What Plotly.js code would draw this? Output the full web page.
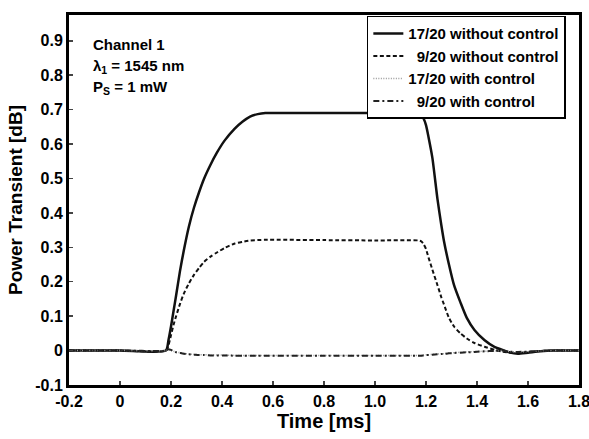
<!DOCTYPE html>
<html>
<head>
<meta charset="utf-8">
<script src="https://cdn.plot.ly/plotly-3.0.1.min.js"></script>
<style>html,body{margin:0;padding:0;background:#fff;}#chart{width:589px;height:439px;}</style>
</head>
<body>
<div id="chart"></div>
<script>
var time = [-0.2, 0, 0.18, 0.19, 0.2, 0.21, 0.22, 0.235, 0.25, 0.27, 0.29, 0.31, 0.33, 0.355, 0.38, 0.41, 0.45, 0.48, 0.51, 0.54, 0.57, 0.8, 1.0, 1.17, 1.18, 1.19, 1.2, 1.21, 1.225, 1.245, 1.26, 1.27, 1.29, 1.31, 1.335, 1.36, 1.39, 1.43, 1.47, 1.5, 1.53, 1.56, 1.6, 1.65, 1.7, 1.8];
var s17NoCtrl = [0, 0, 0, 0.03, 0.07, 0.115, 0.16, 0.23, 0.29, 0.36, 0.415, 0.46, 0.50, 0.54, 0.575, 0.61, 0.645, 0.665, 0.68, 0.687, 0.69, 0.69, 0.69, 0.69, 0.686, 0.675, 0.655, 0.62, 0.56, 0.44, 0.365, 0.32, 0.25, 0.19, 0.14, 0.095, 0.06, 0.03, 0.01, 0.002, -0.006, -0.009, -0.006, -0.002, 0, 0];
var s9NoCtrl = [0, 0, 0, 0.015, 0.045, 0.075, 0.10, 0.135, 0.165, 0.195, 0.22, 0.24, 0.258, 0.273, 0.285, 0.298, 0.311, 0.316, 0.32, 0.321, 0.322, 0.321, 0.32, 0.32, 0.318, 0.31, 0.295, 0.27, 0.235, 0.19, 0.155, 0.135, 0.095, 0.07, 0.05, 0.035, 0.022, 0.011, 0.002, -0.003, -0.006, -0.007, -0.004, -0.001, 0, 0];
var s17Ctrl = [0, 0, 0, 0.003, 0.001, -0.002, -0.004, -0.006, -0.008, -0.010, -0.011, -0.012, -0.012, -0.013, -0.013, -0.013, -0.014, -0.014, -0.014, -0.014, -0.014, -0.014, -0.014, -0.014, -0.014, -0.013, -0.012, -0.012, -0.011, -0.010, -0.009, -0.009, -0.007, -0.006, -0.005, -0.004, -0.003, -0.002, -0.001, 0, -0.003, -0.004, -0.003, -0.001, 0, 0];
var s9Ctrl = [0, 0, 0, 0.004, 0.002, -0.002, -0.005, -0.007, -0.009, -0.011, -0.012, -0.013, -0.013, -0.014, -0.014, -0.014, -0.015, -0.015, -0.015, -0.015, -0.015, -0.015, -0.015, -0.015, -0.015, -0.014, -0.013, -0.013, -0.012, -0.011, -0.010, -0.010, -0.008, -0.007, -0.006, -0.005, -0.004, -0.002, -0.001, 0, -0.003, -0.004, -0.003, -0.001, 0, 0];
var names = ['17/20 without control', '\u00a0\u00a09/20 without control', '17/20 with control', '\u00a0\u00a09/20 with control'];
var xTickVals = [-0.2, 0, 0.2, 0.4, 0.6, 0.8, 1.0, 1.2, 1.4, 1.6, 1.8];
var xTickText = ['-0.2', '0', '0.2', '0.4', '0.6', '0.8', '1.0', '1.2', '1.4', '1.6', '1.8'];
var yTickVals = [-0.1, 0, 0.1, 0.2, 0.3, 0.4, 0.5, 0.6, 0.7, 0.8, 0.9];
var yTickText = ['-0.1', '0', '0.1', '0.2', '0.3', '0.4', '0.5', '0.6', '0.7', '0.8', '0.9'];

var FONT = 'Liberation Sans, Arial, sans-serif';
var traces = [
  {x: time, y: s17NoCtrl, name: names[0], mode: 'lines', line: {color: '#111', width: 2.5, dash: 'solid', shape: 'spline', smoothing: 0.6}},
  {x: time, y: s9NoCtrl, name: names[1], mode: 'lines', line: {color: '#111', width: 2, dash: '4px,2.5px', shape: 'spline', smoothing: 0.6}},
  {x: time, y: s17Ctrl, name: names[2], mode: 'lines', line: {color: '#999', width: 1.5, dash: '1px,1.5px', shape: 'spline', smoothing: 0.6}},
  {x: time, y: s9Ctrl, name: names[3], mode: 'lines', line: {color: '#222', width: 2, dash: '6px,3px,2px,3px', shape: 'spline', smoothing: 0.6}}
];
var layout = {
  width: 589, height: 439,
  margin: {l: 69, r: 10, t: 15, b: 54},
  paper_bgcolor: '#fff', plot_bgcolor: '#fff',
  font: {family: FONT, color: '#000', size: 15, weight: 'bold'},
  showlegend: true,
  legend: {x: 0.584, y: 0.998, xanchor: 'left', yanchor: 'top', bordercolor: '#000', borderwidth: 1.5,
    bgcolor: '#fff', font: {family: FONT, size: 15, weight: 'bold', color: '#000'}, itemwidth: 30, tracegroupgap: 0},
  xaxis: {range: [-0.2, 1.8], tickvals: xTickVals, ticktext: xTickText, ticks: 'inside', ticklen: 4, tickwidth: 1.5,
    showgrid: false, zeroline: false, showline: true, linewidth: 3, linecolor: '#000', mirror: true,
    ticklabeloverflow: 'allow',
    tickfont: {family: FONT, size: 16, weight: 'bold'},
    title: {text: 'Time [ms]', font: {family: FONT, size: 20, weight: 'bold'}, standoff: 4}},
  yaxis: {range: [-0.1, 0.975], tickvals: yTickVals, ticktext: yTickText, ticks: 'inside', ticklen: 4, tickwidth: 1.5,
    showgrid: false, zeroline: false, showline: true, linewidth: 3, linecolor: '#000', mirror: true,
    tickfont: {family: FONT, size: 16, weight: 'bold'},
    title: {text: 'Power Transient [dB]', font: {family: FONT, size: 19, weight: 'bold'}, standoff: 8}},
  annotations: [
    {xref: 'paper', yref: 'paper', x: 0.043, y: 0.919, xanchor: 'left', yanchor: 'middle', showarrow: false, align: 'left',
     text: 'Channel 1', font: {family: FONT, size: 15, weight: 'bold'}},
    {xref: 'paper', yref: 'paper', x: 0.043, y: 0.862, xanchor: 'left', yanchor: 'middle', showarrow: false, align: 'left',
     text: '\u03bb<sub>1</sub> = 1545 nm', font: {family: FONT, size: 15, weight: 'bold'}},
    {xref: 'paper', yref: 'paper', x: 0.043, y: 0.805, xanchor: 'left', yanchor: 'middle', showarrow: false, align: 'left',
     text: 'P<sub>S</sub> = 1 mW', font: {family: FONT, size: 15, weight: 'bold'}}
  ]
};
Plotly.newPlot('chart', traces, layout, {displayModeBar: false, staticPlot: true});
</script>
</body>
</html>
